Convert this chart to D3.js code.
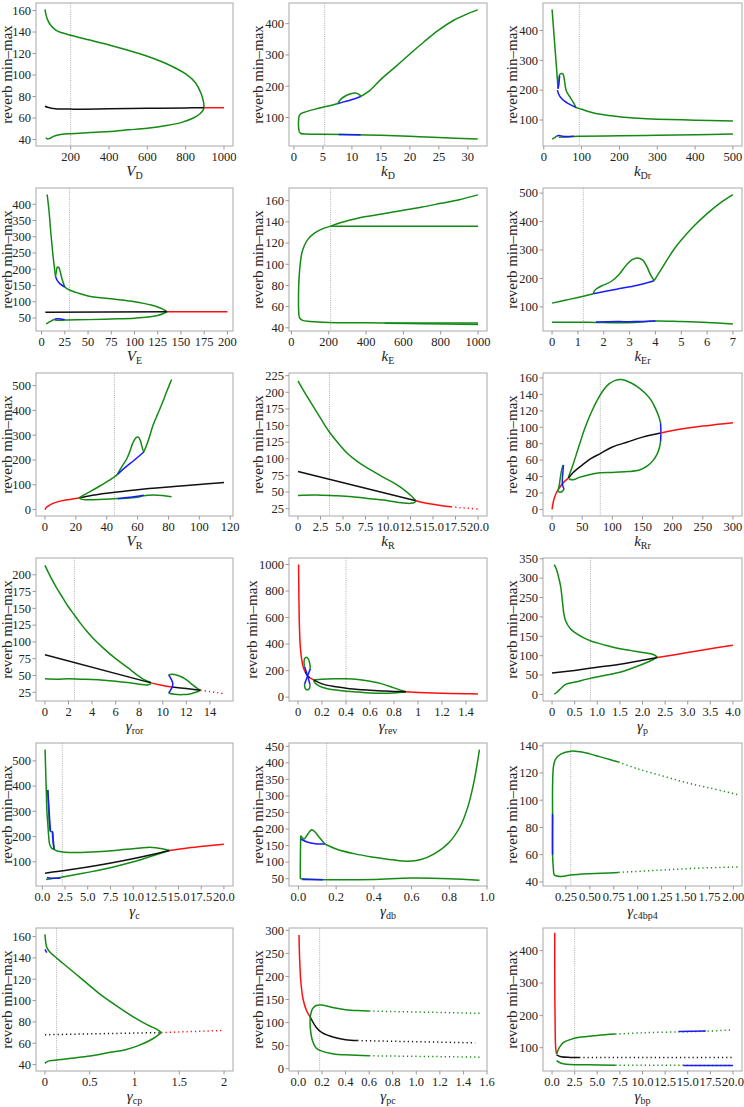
<!DOCTYPE html>
<html><head><meta charset="utf-8">
<script src="https://cdn.jsdelivr.net/npm/d3@7"></script>
<style>body{margin:0;background:#fff}</style></head>
<body><svg id="c" width="744" height="1107" font-family="Liberation Serif"></svg>
<script>
// ---------- Panel axes ----------
const xLabels = [["V","D"],["k","D"],["k","Dr"],["V","E"],["k","E"],["k","Er"],["V","R"],["k","R"],["k","Rr"],
  ["γ","ror"],["γ","rev"],["γ","p"],["γ","c"],["γ","db"],["γ","c4bp4"],["γ","cp"],["γ","pc"],["γ","bp"]];
const xDomains = [[19,1047],[-0.85,33.3],[-2,524],[-6,206],[-13,1048],[-0.35,7.35],[-5.8,121.8],[-1,21],[-15,315],
  [-0.76,15.96],[-0.075,1.575],[-0.2,4.2],[-0.7,21],[-0.05,1.0],[0.01,2.09],[-0.1,2.1],[-0.08,1.6],[-1,21]];
const yDomains = [[34,167],[9,466],[13,492],[10,450],[37,172],[15,518],[-26,551],[14,229],[-8,166],
  [12,225],[-29,1049],[-17,352],[4,571],[28,460],[37,142],[34,168],[-5,305],[28,470]];
const xTicks = [[200,400,600,800,1000],[0,5,10,15,20,25,30],[0,100,200,300,400,500],[0,25,50,75,100,125,150,175,200],
  [0,200,400,600,800,1000],[0,1,2,3,4,5,6,7],[0,20,40,60,80,100,120],[0,2.5,5,7.5,10,12.5,15,17.5,20],[0,50,100,150,200,250,300],
  [0,2,4,6,8,10,12,14],[0,0.2,0.4,0.6,0.8,1,1.2,1.4],[0,0.5,1,1.5,2,2.5,3,3.5,4],[0,2.5,5,7.5,10,12.5,15,17.5,20],
  [0,0.2,0.4,0.6,0.8,1.0],[0.25,0.5,0.75,1,1.25,1.5,1.75,2],[0,0.5,1,1.5,2],[0,0.2,0.4,0.6,0.8,1,1.2,1.4,1.6],[0,2.5,5,7.5,10,12.5,15,17.5,20]];
const xTickText = [null,null,null,null,null,null,null,
  ["0","2.5","5.0","7.5","10.0","12.5","15.0","17.5","20.0"],null,null,
  ["0","0.2","0.4","0.6","0.8","1","1.2","1.4"],["0","0.5","1.0","1.5","2.0","2.5","3.0","3.5","4.0"],
  ["0.0","2.5","5.0","7.5","10.0","12.5","15.0","17.5","20.0"],["0.0","0.2","0.4","0.6","0.8","1.0"],
  ["0.25","0.50","0.75","1.00","1.25","1.50","1.75","2.00"],["0","0.5","1","1.5","2"],
  ["0.0","0.2","0.4","0.6","0.8","1.0","1.2","1.4","1.6"],["0.0","2.5","5.0","7.5","10.0","12.5","15.0","17.5","20.0"]];
const yTicks = [[40,60,80,100,120,140,160],[100,200,300,400],[100,200,300,400],[50,100,150,200,250,300,350,400],
  [40,60,80,100,120,140,160],[100,200,300,400,500],[0,100,200,300,400,500],[25,50,75,100,125,150,175,200,225],[0,20,40,60,80,100,120,140,160],
  [25,50,75,100,125,150,175,200],[0,200,400,600,800,1000],[0,50,100,150,200,250,300,350],[100,200,300,400,500],
  [50,100,150,200,250,300,350,400,450],[40,60,80,100,120,140],[40,60,80,100,120,140,160],[0,50,100,150,200,250,300],[100,200,300,400]];
const vLines = [200,5.3,94,30,210,1.21,45,3.5,80,2.5,0.4,0.85,2.2,0.15,0.3,0.13,0.18,2.5];

// ---------- Curves (x, reverb) ----------
const VD_gUp=[[66,161],[70,157],[78,152],[95,146.5],[120,142],[150,139.5],[200,137],[300,132.5],[400,128],[500,123],[600,117.5],[700,110.5],[800,101],[850,93],[880,83],[893,75],[896,70]];
const VD_gLo=[[70,41.5],[80,40.5],[90,41],[110,43],[140,44.5],[200,45.5],[300,46.5],[400,47.5],[500,49],[600,50.5],[700,53],[780,56],[840,60],[875,64],[893,68],[896,70]];
const VD_k=[[66,71],[80,70],[120,68.6],[200,68.3],[400,68.6],[600,69],[800,69.4],[896,69.6]];
const VD_r=[[896,69.6],[1000,69.6]];

const kD_gLo=[[31.7,31],[25,36],[20,40],[15,43],[10,45],[5,46.5],[2,47],[1.2,49],[0.9,55]];
const kD_gV=[[0.9,55],[0.8,70],[0.8,90],[0.9,105],[1.3,113],[2,118],[3.5,126],[5,133],[6.5,139],[7.6,145]];
const kD_bM=[[7.6,145],[9,152],[10.5,160],[11.6,168]];
const kD_gB=[[7.6,145],[8,157],[8.8,168],[9.8,176],[10.6,178],[11.2,174],[11.6,168]];
const kD_gUp=[[11.6,168],[13,185],[15,222],[17.5,262],[20,303],[22.5,343],[25,380],[27.5,410],[30,432],[31.7,444]];
const kD_bLo=[[7.7,45.5],[11.5,45]];

const kDr_gUp=[[22,470],[25,420],[28,370],[31,320],[34,270],[36,235],[38,205]];
const kDr_gT=[[38,205],[40,230],[42,252],[47,256],[51,254],[55,230],[59,200],[65,185],[72,172],[80,155],[85,142]];
const kDr_bA=[[38,205],[40,225],[42,248]];
const kDr_bB=[[36,200],[40,185],[47,172],[55,163],[65,155],[75,148],[85,142]];
const kDr_gM=[[85,142],[100,136],[125,126],[150,119],[200,111],[250,106],[300,103],[400,99.5],[500,97]];
const kDr_gLo=[[22,36],[28,40],[34,46]];
const kDr_bLo=[[34,46],[40,48],[50,46],[60,45],[80,46]];
const kDr_gLo2=[[40,42],[50,43],[70,44],[80,45],[100,45.5],[200,47],[300,49],[400,51],[500,53]];

const VE_gUp=[[6,430],[8,380],[10,310],[12,250],[14,200],[15,178]];
const VE_gL=[[15,178],[16,195],[17,207],[18.5,205],[20,193],[22,170],[25,145]];
const VE_bUp=[[15,178],[17,165],[20,155],[25,145]];
const VE_gM=[[25,145],[30,136],[40,126],[50,118],[75,109],[100,100],[110,95],[118,90],[125,84],[130,78],[133,73],[135,70]];
const VE_gLo=[[5,32],[8,37],[11,42],[14,46]];
const VE_bLo=[[14,46],[16,48],[20,47],[25,45]];
const VE_gLo2=[[14,44],[20,43],[25,44],[50,45],[75,47],[100,49.5],[115,53],[125,58],[131,64],[135,70]];
const VE_k=[[4,68],[135,69.5]];
const VE_r=[[135,69.5],[200,69.5]];

const kE_gUp=[[40,52],[38,60],[38,70],[39,80],[42,90],[47,100],[55,110],[70,118],[90,124],[120,129],[160,133],[210,136]];
const kE_gR=[[210,136],[300,141],[400,145],[500,148],[600,151],[700,154],[800,157.5],[900,161],[1000,165.5]];
const kE_gF=[[210,136],[1000,136]];
const kE_gLo=[[40,52],[45,49],[60,47],[100,46],[200,45],[400,44.8],[600,44.5],[800,44.5],[1000,44.5]];
const kE_gLo2=[[500,44.3],[700,43.8],[1000,43.2]];

const kEr_g0=[[0,113],[0.5,123],[1,133],[1.6,146]];
const kEr_b=[[1.6,146],[2.5,162],[3.3,176],[3.95,192]];
const kEr_gL=[[1.6,146],[1.65,158],[1.8,168],[2.0,177],[2.3,190],[2.6,215],[2.9,250],[3.1,266],[3.3,272],[3.5,265],[3.65,245],[3.8,215],[3.95,192]];
const kEr_gR=[[3.95,192],[4.2,228],[4.5,272],[4.7,300],[5,335],[5.5,385],[6,428],[6.5,465],[7,495]];
const kEr_gLo=[[0,46],[1,46],[1.7,45],[2.5,44],[3.2,45],[4,50],[5,48],[6,45],[7,40]];
const kEr_bLo=[[1.7,47],[2.5,48],[3.2,48],[4,50]];

const VR_r=[[0,0],[1,9],[3,18],[6,27],[10,34],[15,40],[22,47]];
const VR_k=[[22,47],[30,57],[40,66],[50,73],[60,80],[70,86],[80,91.5],[90,96],[100,101],[110,106],[116,109]];
const VR_gUp=[[22,47],[25,58],[30,75],[35,93],[40,112],[45,132],[47,142]];
const VR_bUp=[[47,142],[52,170],[58,200],[64,232]];
const VR_gL=[[47,142],[49,165],[51,185],[53,205],[55,235],[57,270],[59,290],[60.5,292],[62,275],[63,250],[64,232]];
const VR_gR=[[64,232],[67,280],[70,340],[73,385],[76,430],[79,478],[82,525]];
const VR_gLo=[[22,47],[24,41],[28,40],[35,41],[42,43],[47,45]];
const VR_bLo=[[47,45],[55,50],[64,58]];
const VR_gLo2=[[47,44],[55,47],[60,50],[64,56],[70,59],[76,57],[82,52]];

const kR_gUp=[[0,217],[0.5,205],[1,194],[1.5,183],[2,172],[2.5,161],[3,150],[3.5,140],[4.5,123],[5.5,108],[6.5,97],[7.5,88],[8.5,80],[9.5,72],[10.5,65],[11.3,58],[12,51],[12.6,44],[13.1,37]];
const kR_k=[[0,81],[13.1,37]];
const kR_gLo=[[0,45],[2,45.5],[4,44.5],[6,43],[8,40],[10,37],[11.5,34],[12.5,33],[13,35],[13.1,37]];
const kR_r=[[13.1,37],[14,34],[15,31.5],[16,29.5],[17,28]];
const kR_rDot=[[17,28],[18,26.5],[19,25.5],[20,24.5]];

const kRr_r1=[[0,0],[3,12],[7,20],[12,26],[18,32],[27,38]];
const kRr_gS=[[10,23],[12,30],[14,40],[16,48],[18,53],[19,54]];
const kRr_bS=[[19,54],[18,45],[17,35],[18,28],[20,25]];
const kRr_gS2=[[20,25],[17,22],[14,21],[10,22]];
const kRr_gUp=[[27,39],[35,55],[45,78],[55,100],[65,118],[75,133],[85,145],[95,153],[105,157],[115,158],[125,156],[140,150],[155,141],[165,132],[172,122],[177,113],[180,105]];
const kRr_b=[[180,105],[180.5,94],[180,83]];
const kRr_gLo=[[180,83],[178,75],[174,67],[168,60],[158,53],[145,48],[125,46],[100,45],[80,44.5],[60,42],[45,39],[35,36],[28,37]];
const kRr_k=[[27,38],[35,45],[50,54],[65,62],[80,68],[100,76],[125,82],[150,88],[180,93]];
const kRr_r2=[[180,93],[200,96],[225,99],[250,101.5],[275,103.5],[300,105.5]];

const gr_gUp=[[0,214],[0.5,196],[1,180],[1.5,166],[2,152],[2.5,140],[3,128],[3.5,117],[4,107],[5,90],[6,75],[7,62],[7.8,51],[8.5,43],[9.0,39.5]];
const gr_k=[[0,81],[9.0,39]];
const gr_gLo=[[0,45],[1,44.5],[2,45],[3,44.5],[4,44],[5,43],[6,41.5],[7,39.5],[8,37],[8.7,36],[9.0,38]];
const gr_r=[[9.0,39],[9.6,36.5],[10.2,34.5],[10.8,33]];
const gr_b=[[10.5,51],[10.7,45],[10.85,38],[10.8,33],[10.65,28],[10.5,24]];
const gr_gL1=[[10.5,51],[10.8,52],[11.3,50],[11.9,45],[12.4,38],[12.9,31],[13.2,28]];
const gr_gL2=[[10.5,24],[11,22],[11.7,21.5],[12.3,22.5],[12.8,25],[13.2,28]];
const gr_k2=[[10.8,33],[12,30.5],[13.2,28]];
const gr_rDot=[[13.2,28],[14,26],[14.6,24.5],[15.2,23]];

const rev_r1=[[0.005,1000],[0.007,800],[0.01,600],[0.015,450],[0.02,370],[0.03,290],[0.04,240],[0.05,210],[0.06,190]];
const rev_k1=[[0.06,190],[0.08,160],[0.1,145]];
const rev_r2=[[0.1,145],[0.13,130]];
const rev_gA=[[0.055,230],[0.05,260],[0.055,290],[0.07,300],[0.09,280],[0.1,240],[0.103,215]];
const rev_bA=[[0.055,230],[0.08,160],[0.1,95]];
const rev_bB=[[0.103,215],[0.08,160],[0.055,100]];
const rev_gB=[[0.055,100],[0.058,70],[0.075,55],[0.095,65],[0.1,95]];
const rev_gUp=[[0.13,130],[0.2,135],[0.3,138],[0.4,138],[0.5,133],[0.6,120],[0.7,100],[0.8,70],[0.87,48],[0.9,42]];
const rev_gLo=[[0.13,125],[0.15,100],[0.2,75],[0.3,55],[0.4,45],[0.5,38],[0.6,32],[0.7,30],[0.8,32],[0.9,38]];
const rev_k2=[[0.13,130],[0.2,100],[0.3,80],[0.4,68],[0.5,58],[0.6,52],[0.7,47],[0.8,43],[0.9,40]];
const rev_r3=[[0.9,40],[1.0,36],[1.2,30],[1.4,26],[1.5,24]];

const gp_gUp=[[0.05,335],[0.1,322],[0.15,300],[0.19,279],[0.23,240],[0.26,209],[0.3,190],[0.4,170],[0.5,160],[0.7,146],[0.86,138],[1.0,133],[1.25,125],[1.5,118],[1.75,113],[2.0,108],[2.24,103],[2.33,96]];
const gp_gLo=[[0.05,1],[0.1,5],[0.2,16],[0.3,26],[0.52,32],[0.86,42],[1.2,50],[1.5,57],[1.75,67],[2.0,78],[2.24,90],[2.33,96]];
const gp_k=[[0,55],[0.5,62],[1,70],[1.5,78],[2,88],[2.33,95]];
const gp_r=[[2.33,95],[3,108],[3.5,118],[4,127]];

const gc_gA=[[0.3,545],[0.35,480],[0.4,420],[0.45,360],[0.5,300],[0.6,250],[0.7,200],[0.8,170],[1,155],[1.3,148],[1.6,143]];
const gc_bA=[[0.6,385],[0.7,330],[0.8,270],[0.9,220]];
const gc_bB=[[1.1,220],[1.2,170],[1.3,150]];
const gc_gB=[[0.6,385],[0.7,300],[0.9,220],[1.1,220],[1.2,190],[1.3,150]];
const gc_gUp=[[1.6,143],[2.5,138],[4,137],[6,140],[8,145],[10,152],[11.5,157],[12.5,156],[13.3,151],[14,145]];
const gc_gLo=[[0.4,30],[1,33],[2,38],[3,45],[5,58],[7,72],[9,90],[11,110],[12.5,128],[14,145]];
const gc_bLo=[[0.5,38],[1,35],[2,36]];
const gc_k=[[0.3,55],[3,68],[6,85],[9,105],[12,128],[14,145]];
const gc_r=[[14,145],[16,155],[18,163],[20,170]];

const db_gV=[[0.01,50],[0.01,100],[0.012,180]];
const db_gL=[[0.012,180],[0.03,170],[0.05,185],[0.07,198],[0.09,190],[0.11,175],[0.14,155]];
const db_bM=[[0.012,170],[0.05,160],[0.1,155],[0.14,155]];
const db_gUp=[[0.14,155],[0.2,140],[0.3,125],[0.4,115],[0.5,107],[0.58,103],[0.65,108],[0.72,125],[0.8,160],[0.86,210],[0.9,270],[0.93,340],[0.96,440]];
const db_gLo=[[0.01,50],[0.1,48],[0.2,47],[0.4,48],[0.6,52],[0.8,50],[0.96,45]];
const db_bLo=[[0.02,48],[0.13,47]];

const c4_gV=[[0.12,48],[0.11,60],[0.11,90],[0.11,110],[0.12,125],[0.14,130],[0.2,134],[0.3,136],[0.4,135.5],[0.5,134],[0.6,132],[0.7,130],[0.8,128]];
const c4_gUpD=[[0.8,128],[1,123],[1.25,118],[1.5,113],[1.75,109],[2.05,104]];
const c4_gLo=[[0.12,48],[0.13,45],[0.2,44],[0.3,45],[0.5,46],[0.8,47]];
const c4_gLoD=[[0.8,47],[1.2,48.5],[1.6,50],[2.05,51]];
const c4_b=[[0.11,60],[0.11,90]];

const cp_gUp=[[0,162],[0.02,150],[0.05,146],[0.1,142],[0.2,135],[0.4,121],[0.6,107],[0.8,95],[1.0,84],[1.15,77],[1.25,73],[1.3,70]];
const cp_b=[[0,148],[0.02,145]];
const cp_gLo=[[0,41],[0.03,43],[0.1,44],[0.3,46],[0.5,48],[0.7,51],[0.9,54],[1.05,58],[1.2,64],[1.3,70]];
const cp_kD=[[0,68],[1.3,70]];
const cp_rD=[[1.3,70],[2.0,72]];

const pc_r=[[0.005,290],[0.01,240],[0.02,190],[0.04,150],[0.07,125],[0.1,112]];
const pc_k=[[0.1,112],[0.15,90],[0.2,78],[0.3,68],[0.4,63],[0.5,61]];
const pc_kD=[[0.5,61],[1.5,56]];
const pc_gUp=[[0.1,112],[0.12,130],[0.15,137],[0.2,138],[0.3,132],[0.4,128],[0.5,126],[0.6,125]];
const pc_gUpD=[[0.6,125],[1.55,120]];
const pc_gLo=[[0.1,112],[0.1,90],[0.12,60],[0.15,45],[0.2,38],[0.3,32],[0.4,30],[0.6,28]];
const pc_gLoD=[[0.6,28],[1.55,25]];

const bp_r=[[0.3,455],[0.3,300],[0.35,150],[0.4,100],[0.5,80]];
const bp_k=[[0.5,78],[1,72],[2,70],[3,70]];
const bp_kD=[[3,70],[20,70]];
const bp_gUp=[[0.5,80],[0.8,100],[1.2,115],[2,125],[3,132],[5,138],[7,142]];
const bp_gUpD=[[7,142],[10,146],[14,149],[17,151],[20,155]];
const bp_bUp=[[14,150],[17,152]];
const bp_gLo=[[0.5,60],[1,52],[2,48],[4,47],[7,46]];
const bp_gLoD=[[7,46],[20,45]];
const bp_bLo=[[14.5,45],[20,45]];

// series: [points, colour key, dotted]
const seriesLists = [
 [[VD_gUp,"g"],[VD_gLo,"g"],[VD_k,"k"],[VD_r,"r"]],
 [[kD_gLo,"g"],[kD_gV,"g"],[kD_bM,"b"],[kD_gB,"g"],[kD_gUp,"g"],[kD_bLo,"b"]],
 [[kDr_gUp,"g"],[kDr_gT,"g"],[kDr_bA,"b"],[kDr_bB,"b"],[kDr_gM,"g"],[kDr_gLo,"g"],[kDr_gLo2,"g"],[kDr_bLo,"b"]],
 [[VE_gUp,"g"],[VE_gL,"g"],[VE_bUp,"b"],[VE_gM,"g"],[VE_gLo,"g"],[VE_gLo2,"g"],[VE_bLo,"b"],[VE_k,"k"],[VE_r,"r"]],
 [[kE_gUp,"g"],[kE_gR,"g"],[kE_gF,"g"],[kE_gLo,"g"],[kE_gLo2,"g"]],
 [[kEr_g0,"g"],[kEr_gL,"g"],[kEr_b,"b"],[kEr_gR,"g"],[kEr_gLo,"g"],[kEr_bLo,"b"]],
 [[VR_r,"r"],[VR_k,"k"],[VR_gUp,"g"],[VR_gL,"g"],[VR_bUp,"b"],[VR_gR,"g"],[VR_gLo,"g"],[VR_gLo2,"g"],[VR_bLo,"b"]],
 [[kR_gUp,"g"],[kR_k,"k"],[kR_gLo,"g"],[kR_r,"r"],[kR_rDot,"r",1]],
 [[kRr_r1,"r"],[kRr_gS,"g"],[kRr_gS2,"g"],[kRr_bS,"b"],[kRr_gUp,"g"],[kRr_gLo,"g"],[kRr_k,"k"],[kRr_b,"b"],[kRr_r2,"r"]],
 [[gr_gUp,"g"],[gr_k,"k"],[gr_gLo,"g"],[gr_r,"r"],[gr_gL1,"g"],[gr_gL2,"g"],[gr_k2,"k"],[gr_b,"b"],[gr_rDot,"r",1]],
 [[rev_r1,"r"],[rev_k1,"k"],[rev_r2,"r"],[rev_gA,"g"],[rev_gB,"g"],[rev_bA,"b"],[rev_bB,"b"],[rev_gUp,"g"],[rev_gLo,"g"],[rev_k2,"k"],[rev_r3,"r"]],
 [[gp_gUp,"g"],[gp_gLo,"g"],[gp_k,"k"],[gp_r,"r"]],
 [[gc_gA,"g"],[gc_gB,"g"],[gc_bA,"b"],[gc_bB,"b"],[gc_gUp,"g"],[gc_gLo,"g"],[gc_bLo,"b"],[gc_k,"k"],[gc_r,"r"]],
 [[db_gV,"g"],[db_gL,"g"],[db_bM,"b"],[db_gUp,"g"],[db_gLo,"g"],[db_bLo,"b"]],
 [[c4_gV,"g"],[c4_gUpD,"g",1],[c4_gLo,"g"],[c4_gLoD,"g",1],[c4_b,"b"]],
 [[cp_gUp,"g"],[cp_b,"b"],[cp_gLo,"g"],[cp_kD,"k",1],[cp_rD,"r",1]],
 [[pc_r,"r"],[pc_k,"k"],[pc_kD,"k",1],[pc_gUp,"g"],[pc_gUpD,"g",1],[pc_gLo,"g"],[pc_gLoD,"g",1]],
 [[bp_r,"r"],[bp_k,"k"],[bp_kD,"k",1],[bp_gUp,"g"],[bp_gUpD,"g",1],[bp_bUp,"b"],[bp_gLo,"g"],[bp_gLoD,"g",1],[bp_bLo,"b"]]
];

const colours = {g:"#138a13", b:"#1a1aff", r:"#ff1010", k:"#111111"};
const colLeft=[36,289,543], colRight=[233,487,742];
const rowTop=3, rowBottom=146, rowStep=185;
const FONT="Liberation Serif";
const tickSize=12.5, ylabSize=15, xlabSize=15;

const svg = d3.select("#c");
function txt(sel){ return sel.append("text").attr("font-family",FONT).attr("fill","#222"); }
xLabels.forEach((lab,i)=>{
  const r=Math.floor(i/3), c=i%3;
  const L=colLeft[c], R=colRight[c], T=rowTop+rowStep*r, B=rowBottom+rowStep*r;
  const x=d3.scaleLinear().domain(xDomains[i]).range([L,R]);
  const y=d3.scaleLinear().domain(yDomains[i]).range([B,T]);
  const g=svg.append("g");
  const clipId="clip"+i;
  g.append("clipPath").attr("id",clipId).append("rect").attr("x",L).attr("y",T).attr("width",R-L).attr("height",B-T);
  g.append("line").attr("x1",x(vLines[i])).attr("x2",x(vLines[i])).attr("y1",T).attr("y2",B)
    .attr("stroke","#9a9a9a").attr("stroke-width",0.8).attr("stroke-dasharray","1 1.2");
  const line=d3.line().x(d=>x(d[0])).y(d=>y(d[1])).curve(d3.curveCatmullRom.alpha(0.5));
  const cg=g.append("g").attr("clip-path",`url(#${clipId})`);
  seriesLists[i].forEach(s=>{
    cg.append("path").attr("d",line(s[0])).attr("fill","none").attr("stroke",colours[s[1]])
      .attr("stroke-width",1.5).attr("stroke-linejoin","round")
      .attr("stroke-dasharray",s[2]?"1.2 3":null);
  });
  g.append("rect").attr("x",L).attr("y",T).attr("width",R-L).attr("height",B-T)
    .attr("fill","none").attr("stroke","#a8a8a8").attr("stroke-width",1);
  const xt=xTicks[i], xtt=xTickText[i];
  xt.forEach((v,j)=>{
    const px=x(v);
    g.append("line").attr("x1",px).attr("x2",px).attr("y1",B).attr("y2",B+3.5).attr("stroke","#999");
    txt(g).attr("x",px).attr("y",B+15).attr("text-anchor","middle").attr("font-size",tickSize)
      .text(xtt?xtt[j]:String(v));
  });
  let maxW=0;
  yTicks[i].forEach(v=>{
    const py=y(v);
    g.append("line").attr("x1",L-3.5).attr("x2",L).attr("y1",py).attr("y2",py).attr("stroke","#999");
    const t=txt(g).attr("x",L-5).attr("y",py+4.3).attr("text-anchor","end").attr("font-size",tickSize).text(String(v));
    maxW=Math.max(maxW,t.node().getComputedTextLength());
  });
  txt(g).attr("transform",`translate(${Math.max(L-5-maxW-2,12)},${(T+B)/2}) rotate(-90)`)
    .attr("text-anchor","middle").attr("font-size",ylabSize).text("reverb min–max");
  const xl=txt(g).attr("x",(L+R)/2).attr("y",B+30).attr("text-anchor","middle").attr("font-size",xlabSize);
  xl.append("tspan").attr("font-style","italic").text(lab[0]);
  xl.append("tspan").attr("font-size",10).attr("dy",3).text(lab[1]);
});
</script>
</body></html>
